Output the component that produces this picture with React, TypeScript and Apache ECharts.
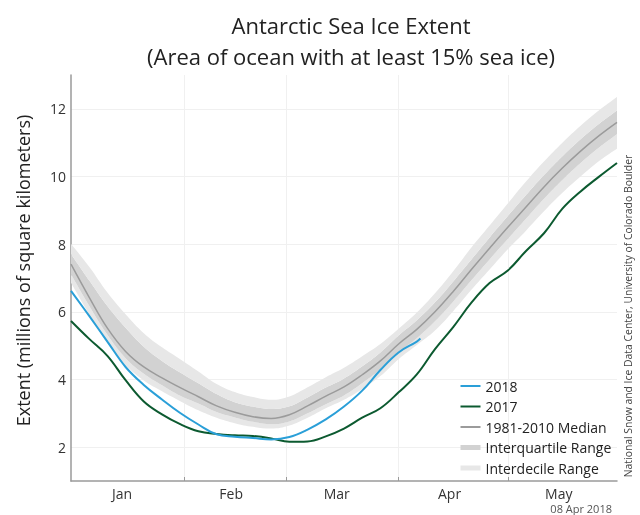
import React, { useEffect, useRef } from 'react';
import * as echarts from 'echarts';

// Day offsets from 1 January (0 = Jan 1, 150 = May 31)
const days = [0, 5, 10, 15, 20, 25, 30, 35, 40, 45, 50, 55, 60, 65, 70, 75, 80, 85, 90, 95, 100, 105, 110, 115, 120, 125, 130, 135, 140, 145, 150];

// 1981-2010 median and percentiles (millions of km²)
const median = [7.41, 6.43, 5.52, 4.83, 4.37, 4.05, 3.76, 3.49, 3.22, 3.03, 2.90, 2.85, 2.96, 3.22, 3.51, 3.78, 4.14, 4.55, 5.05, 5.48, 6.00, 6.60, 7.25, 7.88, 8.50, 9.10, 9.70, 10.25, 10.75, 11.20, 11.60];
const p90 = [8.01, 7.33, 6.57, 5.93, 5.37, 4.95, 4.60, 4.24, 3.87, 3.63, 3.48, 3.40, 3.50, 3.77, 4.07, 4.35, 4.69, 5.05, 5.50, 5.98, 6.55, 7.20, 7.90, 8.55, 9.20, 9.85, 10.45, 11.00, 11.50, 11.95, 12.35];
const p75 = [7.71, 6.93, 6.17, 5.53, 4.97, 4.55, 4.21, 3.89, 3.57, 3.33, 3.20, 3.13, 3.21, 3.47, 3.76, 4.03, 4.39, 4.80, 5.30, 5.75, 6.28, 6.90, 7.55, 8.20, 8.83, 9.45, 10.05, 10.60, 11.10, 11.55, 11.95];
const p25 = [7.11, 6.18, 5.32, 4.63, 4.17, 3.83, 3.52, 3.29, 3.04, 2.88, 2.75, 2.68, 2.76, 3.00, 3.27, 3.53, 3.89, 4.30, 4.80, 5.22, 5.72, 6.30, 6.93, 7.55, 8.15, 8.75, 9.35, 9.90, 10.40, 10.85, 11.25];
const p10 = [6.86, 5.93, 5.07, 4.43, 3.97, 3.65, 3.36, 3.09, 2.87, 2.71, 2.60, 2.55, 2.64, 2.87, 3.15, 3.40, 3.72, 4.10, 4.60, 5.02, 5.45, 6.02, 6.65, 7.25, 7.85, 8.40, 8.98, 9.52, 10.00, 10.45, 10.82];

// 2017 extent
const extent2017 = [5.73, 5.20, 4.70, 3.98, 3.35, 2.97, 2.68, 2.47, 2.39, 2.35, 2.33, 2.26, 2.16, 2.17, 2.32, 2.55, 2.87, 3.15, 3.62, 4.15, 4.90, 5.55, 6.27, 6.85, 7.22, 7.80, 8.33, 9.05, 9.56, 9.99, 10.40];

// 2018 extent (through 8 April)
const days2018 = [0, 5, 10, 15, 20, 25, 30, 35, 40, 45, 50, 55, 60, 65, 70, 75, 80, 85, 90, 95, 96];
const extent2018 = [6.62, 5.88, 5.12, 4.37, 3.84, 3.41, 3.01, 2.67, 2.38, 2.31, 2.27, 2.23, 2.30, 2.52, 2.82, 3.20, 3.67, 4.28, 4.80, 5.12, 5.21];

// Axis ticks and labels
const monthStarts = [31, 59, 90, 120];
const monthLabelDays = [14, 44, 73, 104, 134];
const monthLabels = ['Jan', 'Feb', 'Mar', 'Apr', 'May'];
const yTicks = [2, 4, 6, 8, 10, 12];

const FONT = '"Open Sans", "Noto Sans", sans-serif';
const C2018 = '#2a9fd8';
const C2017 = '#0c5a30';
const CMED = '#9b9b9b';
const CIQR = '#d2d2d2';
const CIDR = '#e7e7e7';

export default function App() {
  const ref = useRef<HTMLDivElement>(null);

  useEffect(() => {
    if (!ref.current) return;
    const chart = echarts.init(ref.current, null, { renderer: 'svg' });
    // value first, day second: the stacked (first) dimension is then the y value
    const vpair = (xs: number[], ys: number[]) => xs.map((d, i) => [ys[i], d]);
    const pair = (xs: number[], ys: number[]) => xs.map((d, i) => [d, ys[i]]);
    const diff = (a: number[], b: number[]) => a.map((v, i) => +(v - b[i]).toFixed(3));

    const bandCommon = {
      type: 'line',
      stack: 'band',
      symbol: 'none',
      smooth: 0.4,
      silent: true,
      encode: { x: 1, y: 0 },
      lineStyle: { width: 0, opacity: 0 },
      z: 1,
    };

    chart.setOption({
      animation: false,
      textStyle: { fontFamily: FONT },
      title: {
        text: 'Antarctic Sea Ice Extent\n(Area of ocean with at least 15% sea ice)',
        left: 346,
        top: 4,
        textAlign: 'center',
        textStyle: { fontSize: 22, fontWeight: 'normal', color: '#222', lineHeight: 31, fontFamily: FONT },
      },
      grid: { left: 71, right: 23, top: 75, bottom: 34 },
      legend: {
        orient: 'vertical',
        left: 458,
        top: 379,
        padding: 0,
        itemWidth: 20,
        itemHeight: 14,
        itemGap: 6.5,
        itemStyle: { opacity: 0 },
        textStyle: { fontSize: 14, color: '#222', fontFamily: FONT },
        data: [
          { name: '2018' },
          { name: '2017' },
          { name: '1981-2010 Median' },
          { name: 'Interquartile Range', lineStyle: { width: 5, color: CIQR, opacity: 1 } },
          { name: 'Interdecile Range', lineStyle: { width: 5, color: CIDR, opacity: 1 } },
        ],
      },
      xAxis: {
        type: 'value',
        min: 0,
        max: 150,
        axisLine: { show: true, lineStyle: { color: '#9a9a9a', width: 1.5 } },
        axisTick: { show: true, inside: true, length: 4, customValues: monthStarts, lineStyle: { color: '#9a9a9a' } },
        axisLabel: {
          customValues: monthLabelDays,
          formatter: (v: number) => monthLabels[monthLabelDays.indexOf(v)] ?? '',
          fontSize: 14,
          color: '#333',
          margin: 5,
          fontFamily: FONT,
        },
        splitLine: { show: true, lineStyle: { color: '#f0f0f0', width: 1 } },
      },
      yAxis: {
        type: 'value',
        min: 1,
        max: 13,
        name: 'Extent (millions of square kilometers)',
        nameLocation: 'middle',
        nameGap: 39,
        nameRotate: 90,
        nameTextStyle: { fontSize: 18, color: '#222', padding: [0, 0, 0, 15], fontFamily: FONT },
        axisLine: { show: true, lineStyle: { color: '#9a9a9a', width: 1.5 } },
        axisTick: { show: false, customValues: yTicks },
        axisLabel: { customValues: yTicks, fontSize: 14, color: '#333', margin: 5, fontFamily: FONT },
        splitLine: { show: true, lineStyle: { color: '#f0f0f0', width: 1 } },
      },
      series: [
        { ...bandCommon, name: 'p10', data: vpair(days, p10) },
        { ...bandCommon, name: 'Interdecile Range', data: vpair(days, diff(p25, p10)), areaStyle: { color: CIDR, opacity: 1 }, itemStyle: { color: CIDR } },
        { ...bandCommon, name: 'Interquartile Range', data: vpair(days, diff(p75, p25)), areaStyle: { color: CIQR, opacity: 1 }, itemStyle: { color: CIQR } },
        { ...bandCommon, name: 'Interdecile Range', data: vpair(days, diff(p90, p75)), areaStyle: { color: CIDR, opacity: 1 }, itemStyle: { color: CIDR } },
        {
          type: 'line', name: '1981-2010 Median', data: pair(days, median), symbol: 'none', smooth: 0.4, z: 3,
          lineStyle: { color: CMED, width: 1.5 }, itemStyle: { color: CMED },
        },
        {
          type: 'line', name: '2017', data: pair(days, extent2017), symbol: 'none', smooth: 0.4, z: 4,
          lineStyle: { color: C2017, width: 2 }, itemStyle: { color: C2017 },
        },
        {
          type: 'line', name: '2018', data: pair(days2018, extent2018), symbol: 'none', smooth: 0.4, z: 5,
          lineStyle: { color: C2018, width: 2 }, itemStyle: { color: C2018 },
        },
      ],
      graphic: [
        {
          type: 'text', x: 628, y: 316, rotation: Math.PI / 2,
          style: {
            text: 'National Snow and Ice Data Center, University of Colorado Boulder',
            fontSize: 10.4, fill: '#444', fontFamily: FONT,
            align: 'center', verticalAlign: 'middle', textAlign: 'center', textVerticalAlign: 'middle',
          },
        },
        {
          type: 'text', x: 612, y: 508,
          style: {
            text: '08 Apr 2018', fontSize: 11, fill: '#555', fontFamily: FONT,
            align: 'right', verticalAlign: 'middle', textAlign: 'right', textVerticalAlign: 'middle',
          },
        },
      ],
    });
    return () => chart.dispose();
  }, []);

  return <div ref={ref} style={{ position: 'fixed', left: 0, top: 0, width: 640, height: 515 }} />;
}
